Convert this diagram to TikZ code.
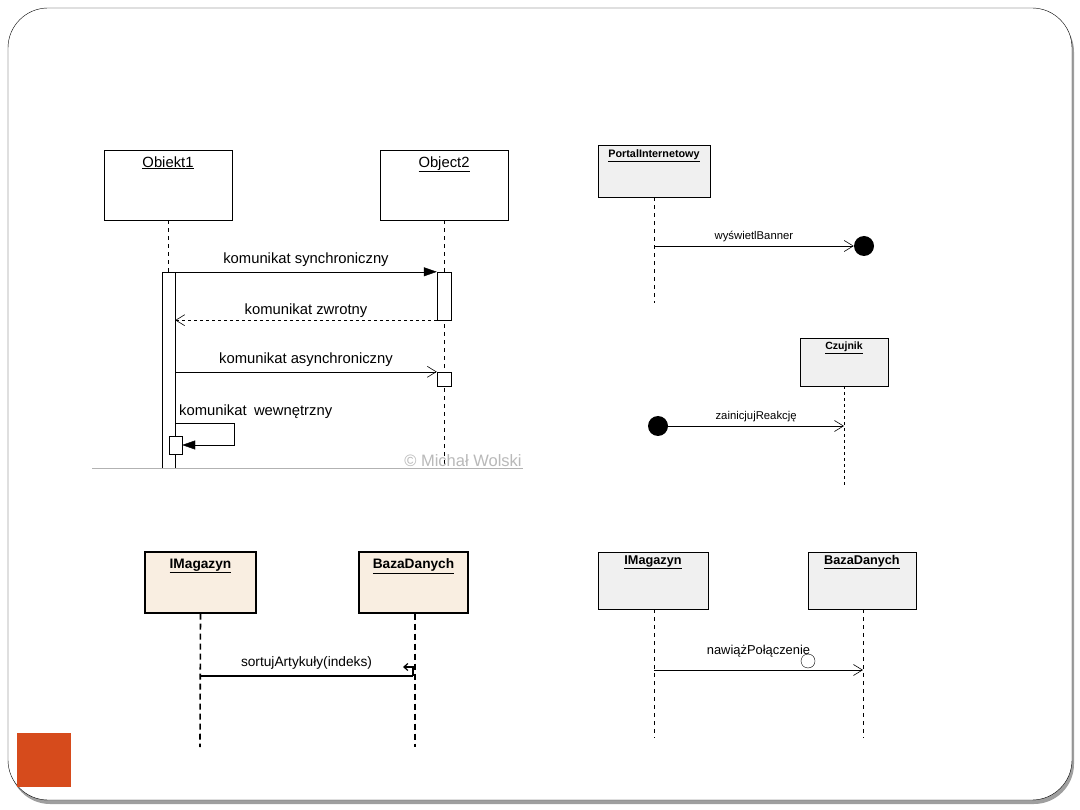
\documentclass[tikz,border=0pt]{standalone}
\usepackage{fontspec}
\setmainfont{Liberation Sans}
\usetikzlibrary{positioning,arrows.meta}

\definecolor{slideorange}{HTML}{D64B1C}
\definecolor{boxgray}{HTML}{F0F0F0}
\definecolor{boxbeige}{HTML}{F9EEE1}

\begin{document}
\begin{tikzpicture}[x=1pt, y=-1pt,
    obj/.style={draw, minimum width=128pt, minimum height=70pt, inner sep=0pt, fill=white},
    smobj/.style={draw, fill=boxgray, inner sep=0pt},
    bigobj/.style={draw, fill=boxbeige, line width=1.4pt, inner sep=0pt},
    act/.style={draw, fill=white, inner sep=0pt},
    life/.style={dash pattern=on 4pt off 4pt},
    thicklife/.style={line width=1.6pt, dash pattern=on 6pt off 4pt},
    sync/.style={-{Triangle[length=13pt,width=9pt]}},
    async/.style={-{Straight Barb[length=9pt,width=11pt,line width=0.6pt]}},
    reply/.style={dashed, -{Straight Barb[length=9pt,width=11pt,line width=0.6pt]}},
    msgtxt/.style={font=\fontsize{14.8}{17}\selectfont, inner sep=2pt},
    smtxt/.style={font=\fontsize{11.3}{13}\selectfont, inner sep=2pt},
    endpt/.style={circle, fill=black, minimum size=20pt, inner sep=0pt}
]
    \useasboundingbox (0,0) rectangle (1080,810);

    % slide frame
    \fill[gray!75, rounded corners=40pt] (10,12) rectangle (1074,804);
    \draw[fill=white, rounded corners=40pt] (8,8) rectangle (1072,800);
    \fill[slideorange] (17,733) rectangle (71,787);

    % --- synchronous / asynchronous messages
    \node[obj, label={[anchor=north, yshift=-3pt, font=\fontsize{14.8}{17}\selectfont]north:\underline{Obiekt1}}] (obj1) at (168,185) {};
    \node[obj, label={[anchor=north, yshift=-3pt, font=\fontsize{14.8}{17}\selectfont]north:\underline{Object2}}] (obj2) at (444,185) {};

    \coordinate (obj1end) at (168,468);
    \coordinate (obj2end) at (444,468);
    \draw[life] (obj1.south) -- (obj1end);
    \draw[life] (obj2.south) -- (obj2end);

    \node[act, minimum width=13pt, minimum height=196pt] (act1) at (168.5,370) {};
    \node[act, minimum width=14pt, minimum height=48pt] (act2) at (444,296) {};
    \node[act, minimum width=14pt, minimum height=14pt] (act3) at (444,379) {};
    \node[act, minimum width=13pt, minimum height=18pt] (act4) at (175.5,445) {};

    \draw[sync] (act1.north east) -- node[msgtxt, above, yshift=3pt] {komunikat synchroniczny} (act2.north west);
    \draw[reply] (act2.south west) -- node[msgtxt, above, yshift=0pt] {komunikat zwrotny} (act1.east |- act2.south);
    \draw[async] (act1.east |- act3.north) -- node[msgtxt, above, yshift=3pt] {komunikat asynchroniczny} (act3.north west);

    % self call
    \coordinate (selfout) at (act1.east |- 0,423);
    \coordinate (selfturn) at (234,423);
    \draw[sync] (selfout) -- (selfturn) |- (act4.east);
    \node[msgtxt, anchor=south west] (selftxt) at (177,421) {komunikat\enspace wewnętrzny};

    \draw[gray!60] (92,468) -- (523,468);
    \node[font=\fontsize{16.5}{18}\selectfont, text=gray!55] (copyr) at (463,461) {© Michał Wolski};

    % --- lost message
    \node[smobj, minimum width=112pt, minimum height=52pt,
        label={[anchor=north, yshift=-1pt, font=\bfseries\fontsize{10.8}{12}\selectfont]north:\underline{PortalInternetowy}}] (portal) at (654,171) {};
    \coordinate (portalend) at (654,303);
    \draw[life] (portal.south) -- (portalend);
    \coordinate (portalmsg) at (654,246);
    \node[endpt] (lost) at (864,246) {};
    \draw[async] (portalmsg) -- node[smtxt, above, yshift=2pt] {wyświetlBanner} (lost.west);

    % --- found message
    \node[smobj, minimum width=88pt, minimum height=48pt,
        label={[anchor=north, yshift=-1pt, font=\bfseries\fontsize{10.5}{12}\selectfont]north:\underline{Czujnik}}] (czujnik) at (844,362) {};
    \coordinate (czujnikend) at (844,486);
    \draw[life, dash pattern=on 3pt off 3pt] (czujnik.south) -- (czujnikend);
    \coordinate (czujnikmsg) at (844,426);
    \node[endpt] (found) at (658,426) {};
    \draw[async] (found.east) -- node[smtxt, above, yshift=2pt] {zainicjujReakcję} (czujnikmsg);

    % --- bottom left
    \node[bigobj, minimum width=111pt, minimum height=61pt,
        label={[anchor=north, yshift=-4pt, font=\bfseries\fontsize{13.7}{15}\selectfont]north:\underline{IMagazyn}}] (mag1) at (200.5,582.5) {};
    \node[bigobj, minimum width=109pt, minimum height=61pt,
        label={[anchor=north, yshift=-4pt, font=\bfseries\fontsize{13.7}{15}\selectfont]north:\underline{BazaDanych}}] (baza1) at (413.5,582.5) {};
    \coordinate (mag1end) at (200,747);
    \coordinate (baza1end) at (415,747);
    \draw[thicklife] (mag1.south) -- (mag1end);
    \draw[thicklife] (baza1.south -| baza1end) -- (baza1end);
    \coordinate (mag1msg) at (200,676);
    \coordinate (baza1msg) at (413,676);
    \coordinate (hooktip) at (403,667);
    \draw[line width=2pt] (mag1msg) -- node[msgtxt, font=\fontsize{13.7}{15}\selectfont, above, yshift=4pt] {sortujArtykuły(indeks)} (baza1msg);
    \draw[line width=1.2pt, -{Straight Barb[length=4pt,width=7pt]}] (baza1msg) -- (baza1msg |- hooktip) -- (hooktip);

    % --- bottom right
    \node[smobj, minimum width=110pt, minimum height=57pt,
        label={[anchor=north, yshift=-0pt, font=\bfseries\fontsize{12.7}{14}\selectfont]north:\underline{IMagazyn}}] (mag2) at (653,580.5) {};
    \node[smobj, minimum width=108pt, minimum height=57pt,
        label={[anchor=north, yshift=-0pt, font=\bfseries\fontsize{12.7}{14}\selectfont]north:\underline{BazaDanych}}] (baza2) at (862,580.5) {};
    \coordinate (mag2end) at (654,738);
    \coordinate (baza2end) at (863,738);
    \draw[life] (mag2.south -| mag2end) -- (mag2end);
    \draw[life] (baza2.south -| baza2end) -- (baza2end);
    \coordinate (mag2msg) at (654,670);
    \coordinate (baza2msg) at (863,670);
    \draw[async, line width=0.6pt] (mag2msg) -- node[msgtxt, font=\fontsize{12.9}{14}\selectfont, above, yshift=11pt] {nawiążPołączenie} (baza2msg);
    \node[draw, circle, minimum size=14pt, inner sep=0pt] (iface) at (808,661) {};

\end{tikzpicture}
\end{document}
